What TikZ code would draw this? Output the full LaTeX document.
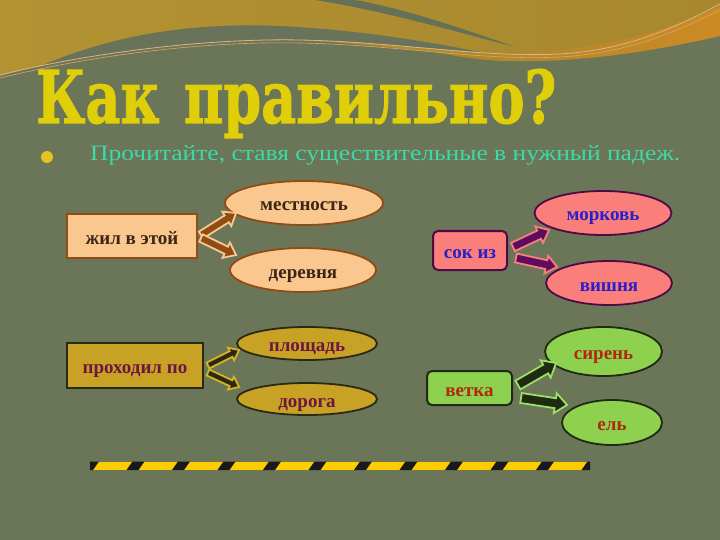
\documentclass[tikz,border=0pt]{standalone}
\usepackage{fontspec}
\usepackage{graphicx}
\setmainfont{Liberation Serif}
\newfontfamily\titlefont{DejaVu Serif}[BoldFeatures={FakeBold=1.5}]
\usetikzlibrary{shapes.geometric,calc}

\definecolor{bg}{HTML}{6B7658}
\definecolor{goldL}{HTML}{B39232}
\definecolor{goldR}{HTML}{A8882E}
\definecolor{orangeband}{HTML}{CC8A24}
\definecolor{humpgreen}{HTML}{68735A}
\definecolor{streak}{HTML}{647058}
\definecolor{wline}{HTML}{D9B38A}
\definecolor{titleyellow}{HTML}{E0CE08}
\definecolor{mint}{HTML}{3DD9A9}
\definecolor{bullety}{HTML}{E6C21E}
% group 1
\definecolor{peach}{HTML}{FAC88E}
\definecolor{brownB}{HTML}{8F4C14}
\definecolor{brownT}{HTML}{3C2416}
% group 2
\definecolor{salmon}{HTML}{FA7E7A}
\definecolor{purpB}{HTML}{4E0A44}
\definecolor{purpA}{HTML}{5E0C5E}
\definecolor{blueT}{HTML}{2A1FC8}
% group 3
\definecolor{goldbox}{HTML}{C8A224}
\definecolor{darkB}{HTML}{2A2A14}
\definecolor{maroonT}{HTML}{6E1640}
\definecolor{goldedge}{HTML}{D9B222}
% group 4
\definecolor{lgreen}{HTML}{8DD14E}
\definecolor{dgreenB}{HTML}{1E2A12}
\definecolor{redT}{HTML}{B0280E}
\definecolor{lgedge}{HTML}{9BE064}
\definecolor{hazY}{HTML}{FFCC00}

\newcommand\blockarrow[7]{%
  \coordinate (tmph) at ($(#2)!#7!(#1)$);
  \filldraw[fill=#3, draw=#4, line width=1.8pt, line join=miter]
    ($(#1)!#5!90:(#2)$) -- ($(tmph)!#5!-90:(#1)$) -- ($(tmph)!#6!-90:(#1)$)
    -- (#2) -- ($(tmph)!#6!90:(#1)$) -- ($(tmph)!#5!90:(#1)$)
    -- ($(#1)!#5!-90:(#2)$) -- cycle;
}

\tikzset{
  boxbase/.style={draw, line width=2pt, inner sep=0pt,
    font=\bfseries\fontsize{19pt}{19pt}\selectfont,
    text height=16pt, text depth=0pt},
  ellbase/.style={ellipse, draw, line width=1.8pt, inner sep=0pt,
    font=\bfseries\fontsize{19pt}{19pt}\selectfont,
    text height=16pt, text depth=0pt},
  gone/.style={fill=peach, draw=brownB, text=brownT},
  gtwo/.style={fill=salmon, draw=purpB, text=blueT},
  gthree/.style={fill=goldbox, draw=darkB, text=maroonT},
  gfour/.style={fill=lgreen, draw=dgreenB, text=redT},
}

\begin{document}
\begin{tikzpicture}[x=1pt,y=-1pt]
\useasboundingbox (0,0) rectangle (720,540);
\fill[bg] (0,0) rectangle (720,540);

% top wave decoration
\shade[left color=goldL, right color=goldR]
  (0,0) -- (720,0) -- (720,33)
  .. controls (650,47) and (600,58) .. (540,58)
  .. controls (450,57) and (380,44) .. (300,40)
  .. controls (200,37) and (80,55) .. (0,76) -- cycle;
\fill[humpgreen]
  (25,73) .. controls (100,38) and (180,22) .. (280,26)
  .. controls (360,30) and (430,42) .. (480,52)
  .. controls (400,46) and (350,41) .. (300,40)
  .. controls (200,37) and (80,55) .. (0,76) -- cycle;
\fill[streak]
  (315,0) .. controls (380,10) and (450,30) .. (515,47)
  .. controls (450,24) and (400,8) .. (355,0) -- cycle;
\shade[left color=goldR, right color=orangeband]
  (430,51) .. controls (520,60) and (630,50) .. (720,6)
  -- (720,36) .. controls (650,52) and (580,63) .. (500,61)
  .. controls (470,59) and (450,55) .. (430,51) -- cycle;
\draw[wline, line width=0.8pt]
  (0,75) .. controls (80,55) and (200,38) .. (300,40)
  .. controls (400,42) and (480,58) .. (560,54)
  .. controls (630,50) and (680,25) .. (720,4);
\draw[wline!70!orange, line width=0.6pt]
  (0,78) .. controls (90,56) and (200,41) .. (300,43)
  .. controls (400,45) and (480,61) .. (560,57)
  .. controls (630,53) and (680,30) .. (720,10);

% title and bullet line
\node[anchor=base west, inner sep=0pt, text=titleyellow] (title) at (36,123)
  {\resizebox{520pt}{54pt}{\titlefont\bfseries Как\hspace{0.45em}правильно?}};
\node[circle, fill=bullety, minimum size=12pt, inner sep=0pt] (bul) at (47,157) {};
\node[anchor=base west, inner sep=0pt, text=mint] (sub) at (90,161)
  {\resizebox{590pt}{15pt}{Прочитайте, ставя существительные в нужный падеж.}};

% group 1
\node[boxbase, gone, minimum width=130pt, minimum height=44pt] (r1) at (132,236) {жил в этой};
\node[ellbase, gone, minimum width=158pt, minimum height=44pt] (e1) at (304,203) {местность};
\node[ellbase, gone, minimum width=146pt, minimum height=44pt] (e2) at (303,270) {деревня};
\coordinate (a1s) at ($(r1.east)+(3,-1)$);
\coordinate (a1e) at ($(e1.west)+(12,10)$);
\coordinate (a2s) at ($(r1.east)+(3,2)$);
\coordinate (a2e) at ($(e2.west)+(7,-15)$);
\blockarrow{a1s}{a1e}{brownB}{peach}{4pt}{8.5pt}{11pt}
\blockarrow{a2s}{a2e}{brownB}{peach}{4pt}{8.5pt}{11pt}

% group 2
\node[boxbase, gtwo, rounded corners=5pt, minimum width=74pt, minimum height=39pt] (r2) at (470,250.5) {сок из};
\node[ellbase, gtwo, minimum width=137pt, minimum height=44pt] (e3) at (603,213) {морковь};
\node[ellbase, gtwo, minimum width=126pt, minimum height=44pt] (e4) at (609,283) {вишня};
\coordinate (a3s) at ($(r2.east)+(5,-3.5)$);
\coordinate (a3e) at ($(e3.west)+(15.5,17)$);
\coordinate (a4s) at ($(r2.east)+(8,7.5)$);
\coordinate (a4e) at ($(e4.west)+(12,-16)$);
\blockarrow{a3s}{a3e}{purpA}{salmon}{4.5pt}{9pt}{11pt}
\blockarrow{a4s}{a4e}{purpA}{salmon}{4.5pt}{9pt}{11pt}

% group 3
\node[boxbase, gthree, minimum width=136pt, minimum height=45pt] (r3) at (135,365.5) {проходил по};
\node[ellbase, gthree, minimum width=140pt, minimum height=33pt] (e5) at (307,343.5) {площадь};
\node[ellbase, gthree, minimum width=140pt, minimum height=32pt] (e6) at (307,399) {дорога};
\coordinate (a5s) at ($(r3.east)+(4,0)$);
\coordinate (a5e) at ($(e5.west)+(3,6.5)$);
\coordinate (a6s) at ($(r3.east)+(4,7)$);
\coordinate (a6e) at ($(e6.west)+(3,-12)$);
\blockarrow{a5s}{a5e}{darkB}{goldedge}{3.2pt}{7pt}{9pt}
\blockarrow{a6s}{a6e}{darkB}{goldedge}{3.2pt}{7pt}{9pt}

% group 4
\node[boxbase, gfour, rounded corners=5pt, minimum width=85pt, minimum height=34pt] (r4) at (469.5,388) {ветка};
\node[ellbase, gfour, minimum width=117pt, minimum height=49pt] (e7) at (603.5,351.5) {сирень};
\node[ellbase, gfour, minimum width=100pt, minimum height=45pt] (e8) at (612,422.5) {ель};
\coordinate (a7s) at ($(r4.east)+(5,-3)$);
\coordinate (a7e) at ($(e7.west)+(12,11.5)$);
\coordinate (a8s) at ($(r4.east)+(8,10)$);
\coordinate (a8e) at ($(e8.west)+(6,-17.5)$);
\blockarrow{a7s}{a7e}{dgreenB}{lgedge}{5pt}{10pt}{12pt}
\blockarrow{a8s}{a8e}{dgreenB}{lgedge}{5pt}{10pt}{12pt}

% hazard stripe
\begin{scope}
  \clip (90,461.5) rectangle (590,470);
  \fill[hazY] (90,461.5) rectangle (590,470);
  \foreach \k in {0,...,11} {
    \fill[black!90] ({90+45.5*\k-9},470) -- ({90+45.5*\k+3},470)
      -- ({90+45.5*\k+9},461.5) -- ({90+45.5*\k-3},461.5) -- cycle;
  }
\end{scope}
\end{tikzpicture}
\end{document}
